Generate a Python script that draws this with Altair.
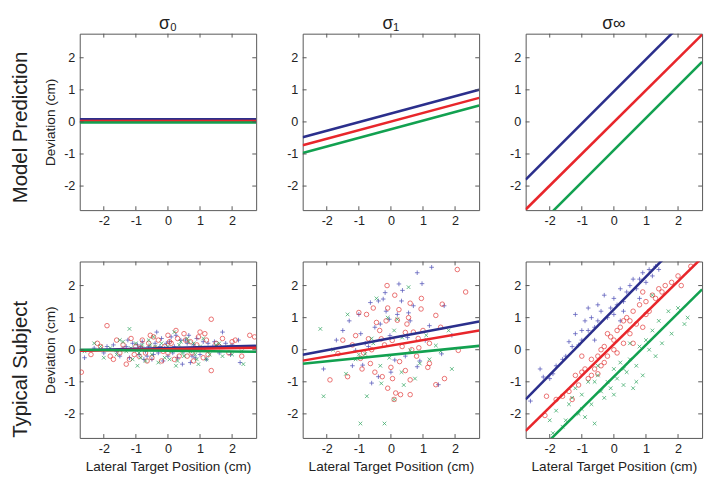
import altair as alt
import pandas as pd

FONT = "Liberation Sans"
AX = "#555555"
TXT = "#222222"
LINE_COLORS = ["#2B2F8C", "#E8262B", "#12A150"]
POINT_COLORS = ["#4B4DB5", "#E23A3A", "#2AA35A"]
PLUS = "M-1,0L1,0M0,-1L0,1"
CROSS = "M-0.8,-0.8L0.8,0.8M-0.8,0.8L0.8,-0.8"

series = ["blue", "red", "green"]
column_titles = ["σ₀", "σ₁", "σ∞"]
row_titles = ["Model Prediction", "Typical Subject"]
tick_values = [-2, -1, 0, 1, 2]
x_domain = [-2.75, 2.75]
y_domain = [-2.75, 2.75]

# line end values (at left and right edge of x-domain), order: blue, red, green
model_s0_left = [0.08, 0.03, -0.02]
model_s0_right = [0.08, 0.03, -0.02]
model_s1_left = [-0.48, -0.73, -0.97]
model_s1_right = [1.0, 0.75, 0.51]
model_sinf_left = [-1.8, -2.73, -3.63]
model_sinf_right = [3.7, 2.72, 1.87]

subj_s0_left = [-0.02, -0.03, 0.0]
subj_s0_right = [0.12, 0.06, -0.06]
subj_s1_left = [-0.16, -0.34, -0.44]
subj_s1_right = [0.88, 0.6, 0.12]
subj_sinf_left = [-1.55, -2.53, -3.56]
subj_sinf_right = [4.06, 2.87, 1.88]

# subject data, sigma 0
s0_blue_x = [-2.6, -2.3, -2.0, -1.7, -1.5, -1.3, -1.2, -1.1, -1.0, -0.9, -0.8, -0.7, -0.6, -0.5, -0.4,
             -0.3, -0.2, -0.1, 0.0, 0.1, 0.2, 0.3, 0.4, 0.5, 0.6, 0.7, 0.8, 0.9, 1.0, 1.1, 1.2, 1.4,
             1.6, 1.7, 1.8, 2.0, 2.2, 2.25, -0.35, 0.45,
             -1.4, -0.85, -0.45, 0.05, 0.35, 0.75, 1.25, -0.15, 0.65, 1.05,
             -1.9, -1.6, -1.25, -0.95, -0.65, -0.25, 0.15, 0.55, 0.85, 1.15, 1.45, 1.95, -0.05, 0.25, -0.75]
s0_blue_y = [-0.25, 0.05, -0.1, 0.15, -0.2, 0.1, -0.25, 0.2, 0.0, -0.15, 0.25, -0.05, 0.1, -0.3, 0.2,
             -0.1, 0.35, 0.05, -0.2, 0.4, 0.1, -0.25, 0.3, -0.05, 0.2, -0.4, 0.15, 0.35, -0.15, 0.25,
             -0.3, 0.1, -0.1, 0.55, 0.2, 0.15, 0.3, -0.4, 0.55, -0.45,
             0.05, 0.1, -0.15, 0.25, 0.05, -0.2, 0.2, -0.35, 0.45, 0.05,
             0.1, -0.05, 0.3, 0.15, -0.2, 0.1, -0.1, 0.3, -0.25, 0.05, 0.25, -0.15, 0.2, 0.45, -0.3]
s0_red_x = [-2.7, -2.4, -2.1, -1.9, -1.8, -1.6, -1.5, -1.4, -1.3, -1.2, -1.15, -1.0, -0.9, -0.8, -0.7,
            -0.6, -0.55, -0.5, -0.4, -0.3, -0.2, -0.1, 0.0, 0.0, 0.1, 0.2, 0.25, 0.3, 0.4, 0.5,
            0.6, 0.7, 0.8, 0.9, 1.0, 1.1, 1.15, 1.2, 1.35, 1.35, 1.5, 1.7, 1.9, 2.0, 2.3, 2.55, 2.7,
            -2.2, -1.7, -1.05, -0.85, -0.45, -0.15, 0.05, 0.35, 0.55, 0.75, 0.95, 1.25, 1.6, 2.1, -0.65]
s0_red_y = [-0.7, -0.15, 0.1, 0.75, -0.2, 0.3, -0.1, 0.15, -0.45, -0.3, 0.35, 0.1, -0.2, 0.3, -0.1,
            0.2, 0.45, -0.25, 0.05, 0.3, -0.35, 0.1, 0.45, -0.1, 0.2, -0.3, 0.6, 0.35, 0.0, 0.5,
            -0.2, 0.25, -0.35, 0.15, 0.55, -0.25, 0.5, 0.3, 0.95, -0.65, 0.2, 0.35, -0.1, 0.25, -0.2, 0.45, 0.4,
            0.2, -0.3, -0.15, 0.05, 0.4, -0.05, 0.25, -0.2, 0.3, -0.1, 0.4, -0.15, 0.1, 0.3, -0.35]
s0_green_x = [-2.6, -2.3, -2.0, -1.8, -1.6, -1.4, -1.3, -1.2, -1.1, -1.0, -0.95, -0.9, -0.8, -0.7, -0.6,
              -0.5, -0.4, -0.3, -0.2, -0.1, 0.0, 0.1, 0.2, 0.25, 0.3, 0.4, 0.5, 0.6, 0.7, 0.8,
              0.9, 0.95, 1.0, 1.1, 1.3, 1.5, 1.7, 1.9, 2.3, 2.35,
              -2.1, -1.5, -1.15, -0.85, -0.55, -0.25, 0.05, 0.35, 0.65, 0.85, 1.2, 1.6, 2.0, -0.45, 0.45]
s0_green_y = [-0.05, 0.2, -0.25, 0.05, -0.15, 0.25, -0.05, 0.65, -0.3, 0.2, -0.5, -0.1, 0.15, -0.35, 0.3,
              -0.15, 0.1, -0.4, 0.2, -0.25, 0.1, -0.05, 0.55, -0.5, -0.35, 0.25, -0.2, 0.35, -0.05, 0.2,
              -0.3, -0.45, 0.1, 0.35, -0.15, 0.15, -0.2, 0.1, -0.05, -0.45,
              0.1, 0.3, 0.05, -0.25, 0.15, 0.05, -0.3, 0.15, 0.25, -0.15, -0.3, 0.2, -0.15, 0.4, -0.1]

# subject data, sigma 1
s1_blue_x = [1.27, 0.82, 0.97, 0.36, -0.18, -0.64, -0.39, 0.33, 0.7, 1.66, -1.3, -1.5, -0.94, -0.03, 0.52,
             1.07, 1.58, -2.1, -0.6, -0.39, 0.82, 1.48, -1.1, 0.12, -0.24, -0.33, -0.88, -1.7, -0.5, 0.2,
             0.6, 1.2, -0.8, 0.0, 0.45, 1.9, -1.2, -0.15,
             -0.05, 0.55, -0.7, 0.9, -1.0, 0.25]
s1_blue_y = [2.57, 2.4, 2.06, 1.85, 1.78, 1.47, 1.52, 1.52, 1.37, 1.37, 0.9, 0.6, 0.5, 0.44, 0.38,
             0.29, -0.13, -0.6, -1.04, -0.84, -0.53, -1.09, -0.02, -0.32, 1.58, 0.8, -0.48, 0.3, 0.7, 1.1,
             0.9, 0.75, 0.2, -0.7, -0.2, 0.45, -0.5, 1.2,
             0.95, 1.15, 0.1, -0.35, 1.1, 2.05]
s1_red_x = [2.07, 2.33, -0.12, 0.12, 0.6, 1.6, -1.0, -0.76, 0.2, 0.5, 0.94, 1.4, -1.1, -0.7, -0.3,
            0.04, 0.45, 0.87, 1.2, 2.1, -1.9, -1.35, -0.5, -0.27, -0.1, 0.15, 0.3, 0.6, 0.6, 1.4,
            1.67, 0.1, -1.65, -0.95, -0.64, 0.27, 1.2, -0.6, -0.2, 0.8, -0.1, 0.7, -0.45, 0.35, 1.0,
            -1.5, -0.85, 0.0, 0.55, 1.55,
            -0.35, 0.25, 0.85, -0.9, 0.05, 0.45, 1.15, -0.55, 0.65, -0.15, 0.95, -1.2]
s1_red_y = [2.5, 1.8, 2.0, 1.7, 1.45, 1.42, 1.16, 1.1, 0.92, 0.8, 1.27, 1.07, 0.44, 0.34, 0.34,
            0.29, 0.54, 0.06, 0.2, -0.02, -0.94, -0.84, -0.7, -0.84, -1.2, -1.35, -1.4, -0.94, -1.4, -1.09,
            -0.9, -1.55, -0.12, -0.27, -0.43, -0.37, -0.43, 0.0, 0.15, -0.2, 1.3, 0.55, 0.85, 0.1, 0.6,
            0.3, -0.1, -0.55, 1.0, 0.7,
            0.6, 1.25, 0.35, -0.6, -0.9, -0.65, -0.55, 1.3, 0.0, 0.9, 1.6, 0.15]
s1_green_x = [-2.2, -2.1, -0.95, -0.2, -0.45, 0.55, -1.35, 0.1, 0.35, 1.8, -1.8, -1.4, -0.75, 0.1, 0.33,
              0.9, 1.9, -0.33, -0.05, -0.8, 0.6, 1.4, 1.2, -0.1, -1.1, 0.75, -0.55, 1.1,
              -0.6, 0.4, 1.55, -1.0, 0.2, -0.3]
s1_green_y = [0.65, -1.45, -2.3, -2.3, 1.6, 1.95, 1.1, 0.6, 0.38, 0.6, 0.0, -0.75, -1.45, -1.55, -0.7,
              -0.43, -0.6, -0.5, -0.25, -0.13, -0.02, 0.13, -0.3, 1.0, -0.3, -0.9, 0.2, 0.45,
              0.35, -1.1, -0.05, -0.15, 0.95, -1.05]

# subject data, sigma infinity
sinf_blue_x = [-2.6, -2.3, -2.2, -2.0, -1.9, -1.8, -1.6, -1.5, -1.4, -1.3, -1.2, -1.1, -1.0, -1.0, -0.9,
               -0.8, -0.8, -0.7, -0.6, -0.5, -0.5, -0.4, -0.3, -0.2, -0.1, 0.0, 0.0, 0.1, 0.2, 0.3,
               0.3, 0.4, 0.5, 0.6, 0.7, 0.8, 0.9, 1.0, 1.1, 1.2, 1.3, 1.4, -1.2, -0.6, 0.2, 0.8]
sinf_blue_y = [-1.6, -0.6, -0.85, -0.9, -0.75, -0.5, -0.3, -0.2, 0.25, 0.1, 0.5, 0.15, 0.6, 0.3, 0.9,
               0.6, 1.3, 1.0, 0.7, 1.4, 0.9, 1.2, 1.7, 1.0, 1.3, 1.6, 1.1, 1.4, 1.9, 1.5,
               1.2, 1.8, 2.0, 2.2, 1.9, 2.2, 2.4, 2.1, 2.5, 2.3, 2.6, 2.5, 1.1, 0.3, 0.9, 1.6]
sinf_red_x = [-2.1, -2.15, -1.8, -1.6, -1.4, -1.3, -1.2, -1.1, -1.0, -0.9, -0.8, -0.7, -0.6, -0.5, -0.4,
              -0.4, -0.3, -0.2, -0.1, 0.0, 0.0, 0.1, 0.1, 0.2, 0.3, 0.4, 0.5, 0.5, 0.6, 0.7,
              0.8, 0.9, 1.0, 1.0, 1.1, 1.2, 1.3, 1.4, 1.5, 1.6, 1.8, 2.0, 2.1, 2.4, -0.7,
              -0.2, 0.3, -1.0, 0.6, -0.5, 0.9, -0.3]
sinf_red_y = [-1.45, -2.05, -1.55, -1.45, -1.3, -1.55, -0.8, -1.1, -0.7, -0.6, -0.9, -0.3, -0.6, -0.2, 0.0,
              -0.5, 0.1, -0.2, 0.4, 0.0, 0.3, -0.1, 0.6, 0.7, 0.2, 1.0, 0.5, 0.9, 1.2, 0.8,
              1.4, 0.7, 1.1, 1.5, 1.2, 1.7, 1.6, 1.9, 1.8, 2.0, 2.1, 2.3, 2.0, 2.6, -0.8,
              0.5, 0.9, -0.2, 0.2, -0.75, 1.8, -0.4]
sinf_green_x = [-2.0, -1.9, -1.8, -1.6, -1.5, -1.3, -1.2, -1.1, -1.0, -0.9, -0.8, -0.7, -0.6, -0.5, -0.4,
                -0.3, -0.2, -0.1, 0.0, 0.0, 0.1, 0.2, 0.3, 0.4, 0.5, 0.6, 0.7, 0.8, 0.9, 1.0,
                1.1, 1.2, 1.3, 1.4, 1.5, 1.7, 1.8, 2.0, 2.2, 2.3, -1.0, -0.5, 0.3, 1.2, -1.4,
                0.7, -0.6, 0.5]
sinf_green_y = [-2.2, -2.6, -1.9, -2.4, -2.2, -1.5, -1.2, -2.0, -1.4, -2.1, -1.0, -1.7, -2.3, -0.8, -1.3,
                -1.5, -1.0, -1.2, -0.6, -1.4, -0.9, -0.4, -1.1, -0.7, -0.3, -1.2, -0.5, 0.1, -0.8, 0.3,
                0.0, 0.6, -0.2, 0.9, 0.2, 1.2, 0.5, 1.3, 0.8, 1.0, -1.85, -0.5, -0.6, 1.7, -1.7,
                -1.0, -1.0, 0.2]

W, H = 182, 182


def points_frame(bx, by, rx, ry, gx, gy):
    rows = []
    for s, xs, ys in zip(series, (bx, rx, gx), (by, ry, gy)):
        rows += [{"x": a, "y": b, "series": s} for a, b in zip(xs, ys)]
    return pd.DataFrame(rows)


def lines_frame(left, right):
    rows = []
    for s, l, r in zip(series, left, right):
        rows.append({"x": x_domain[0], "y": l, "series": s})
        rows.append({"x": x_domain[1], "y": r, "series": s})
    return pd.DataFrame(rows)


xscale = alt.Scale(domain=x_domain, nice=False, zero=False)
yscale = alt.Scale(domain=y_domain, nice=False, zero=False)
ticks_df = pd.DataFrame({"x": tick_values, "y": tick_values})

AXIS_STYLE = dict(values=tick_values, ticks=False, domain=False, grid=False,
                  labelFont=FONT, labelFontSize=13, labelColor=TXT, labelExpr="'' + datum.value",
                  titleFont=FONT, titleFontSize=14, titleColor=TXT, titleFontWeight="normal")


def panel(left, right, pts=None, title=None, ytitle=None, xtitle=None):
    xax = alt.Axis(title=xtitle, labelPadding=5, titlePadding=5, **AXIS_STYLE)
    yax = alt.Axis(title=ytitle, labelPadding=5, titlePadding=6, **AXIS_STYLE)
    X = alt.X("x:Q", scale=xscale, axis=xax)
    Y = alt.Y("y:Q", scale=yscale, axis=yax)
    layers = []
    if pts is not None:
        layers.append(
            alt.Chart(pts).mark_point(filled=False, strokeWidth=0.8, size=22, opacity=0.9, clip=True).encode(
                x=X, y=Y,
                stroke=alt.Stroke("series:N", scale=alt.Scale(domain=series, range=POINT_COLORS), legend=None),
                shape=alt.Shape("series:N", scale=alt.Scale(domain=series, range=[PLUS, "circle", CROSS]),
                                legend=None),
            )
        )
    lines = alt.Chart(lines_frame(left, right)).mark_line(strokeWidth=2.6, clip=True).encode(
        x=X, y=Y,
        color=alt.Color("series:N", scale=alt.Scale(domain=series, range=LINE_COLORS), legend=None),
        detail="series:N",
    )
    layers.append(lines)
    tb = alt.Chart(ticks_df)
    layers.append(tb.mark_rule(color=AX).encode(x=X, y=alt.value(H), y2=alt.value(H - 4)))
    layers.append(tb.mark_rule(color=AX).encode(x=X, y=alt.value(0), y2=alt.value(4)))
    layers.append(tb.mark_rule(color=AX).encode(y=Y, x=alt.value(0), x2=alt.value(4)))
    layers.append(tb.mark_rule(color=AX).encode(y=Y, x=alt.value(W), x2=alt.value(W - 4)))
    ch = alt.layer(*layers).properties(width=W, height=H)
    if title is not None:
        ch = ch.properties(title=alt.TitleParams(title, fontSize=18, font=FONT, fontWeight="normal",
                                                 color=TXT, offset=0))
    return ch


YT = "Deviation (cm)"
XT = "Lateral Target Position (cm)"

top = alt.hconcat(
    panel(model_s0_left, model_s0_right, title=column_titles[0], ytitle=YT),
    panel(model_s1_left, model_s1_right, title=column_titles[1]),
    panel(model_sinf_left, model_sinf_right, title=column_titles[2]),
    spacing=29,
).properties(title=alt.TitleParams(row_titles[0], orient="left", fontSize=21, font=FONT,
                                   fontWeight="normal", color=TXT, offset=13, anchor="middle", dx=-6))

bottom = alt.hconcat(
    panel(subj_s0_left, subj_s0_right,
          pts=points_frame(s0_blue_x, s0_blue_y, s0_red_x, s0_red_y, s0_green_x, s0_green_y),
          ytitle=YT, xtitle=XT),
    panel(subj_s1_left, subj_s1_right,
          pts=points_frame(s1_blue_x, s1_blue_y, s1_red_x, s1_red_y, s1_green_x, s1_green_y),
          xtitle=XT),
    panel(subj_sinf_left, subj_sinf_right,
          pts=points_frame(sinf_blue_x, sinf_blue_y, sinf_red_x, sinf_red_y, sinf_green_x, sinf_green_y),
          xtitle=XT),
    spacing=29,
).properties(title=alt.TitleParams(row_titles[1], orient="left", fontSize=21, font=FONT,
                                   fontWeight="normal", color=TXT, offset=13, anchor="middle", dx=-2))

chart = alt.vconcat(top, bottom, spacing=33, background="white",
                    padding={"left": 2, "top": 0, "right": 2, "bottom": 2}).configure_view(
    stroke=AX, strokeWidth=1
)

chart.save("out.html", embed_options={"renderer": "svg", "actions": False})
